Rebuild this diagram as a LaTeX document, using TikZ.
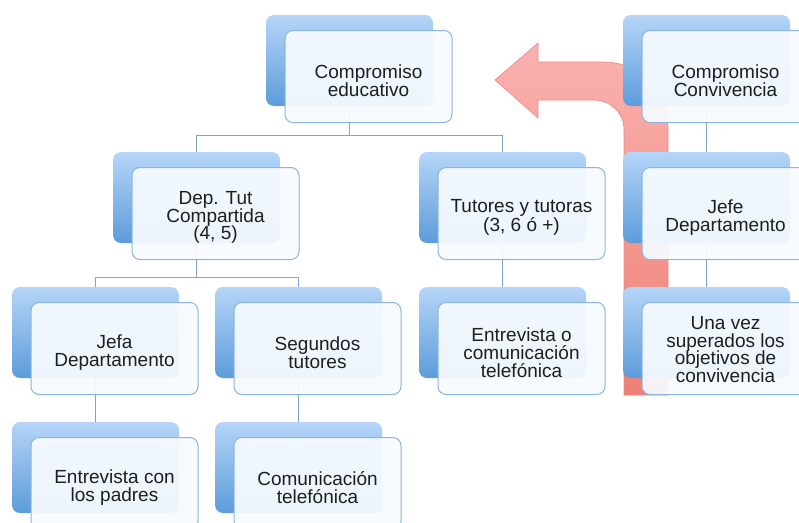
\documentclass[tikz,border=0pt]{standalone}
\usepackage{fontspec}
\setmainfont{Liberation Sans}

\definecolor{backtop}{RGB}{182,213,248}
\definecolor{backbot}{RGB}{92,156,218}
\definecolor{frontfill}{RGB}{246,250,254}
\definecolor{frontline}{RGB}{140,180,222}
\definecolor{linkcol}{RGB}{128,164,204}
\definecolor{arrowtop}{RGB}{250,178,175}
\definecolor{arrowbot}{RGB}{238,128,118}
\definecolor{arrowline}{RGB}{232,138,132}
\definecolor{textcol}{RGB}{30,30,30}

\begin{document}
\begin{tikzpicture}[x=1pt,y=1pt,
    backbox/.style={rounded corners=8pt,minimum width=167pt,minimum height=91pt,inner sep=0pt,
      top color=backtop,bottom color=backbot},
    boxbase/.style={rounded corners=8pt,minimum width=167pt,minimum height=92pt,inner sep=0pt,
      draw=frontline,line width=1pt,fill=frontfill,fill opacity=0.94},
    boxtext/.style={align=center,text=textcol,text opacity=1,fill opacity=1,draw=none,fill=none,
      yshift=-4pt,inner sep=0pt,font=\fontsize{19}{17.8}\selectfont},
    frontbox/.style={boxbase,label={[boxtext]center:#1}},
    link/.style={draw=linkcol,line width=1pt}]
    \useasboundingbox (0,0) rectangle (799,-522);
    \clip (0,0) rectangle (799,-522);
%
    % curved arrow behind the boxes
    \draw[arrowline,line width=0.6pt,top color=arrowtop,bottom color=arrowbot]
      (668,-395) -- (668,-128) .. controls (668,-90) and (640,-62) .. (603,-62)
      -- (538,-62) -- (538,-43) -- (495,-80) -- (538,-118) -- (538,-100)
      -- (593,-100) .. controls (610,-100) and (624,-112) .. (624,-130)
      -- (624,-395) -- cycle;
%
    \node[backbox] (eduB)  at (349.5,-60.5)  {};
    \node[backbox] (depB)  at (196.5,-197.5) {};
    \node[backbox] (tutB)  at (502.5,-197.5) {};
    \node[backbox] (convB) at (706.5,-60.5)  {};
    \node[backbox] (jefeB) at (706.5,-197.5) {};
    \node[backbox] (jefaB) at (95.5,-332.5)  {};
    \node[backbox] (segB)  at (298.5,-332.5) {};
    \node[backbox] (entB)  at (502.5,-332.5) {};
    \node[backbox] (unaB)  at (706.5,-332.5) {};
    \node[backbox] (padB)  at (95.5,-467.5)  {};
    \node[backbox] (telB)  at (298.5,-467.5) {};
%
    \draw[link] (eduB.south) -- ++(0,-29) -| (depB.north);
    \draw[link] (eduB.south) -- ++(0,-29) -| (tutB.north);
    \draw[link] (depB.south) -- ++(0,-34) -| (jefaB.north);
    \draw[link] (depB.south) -- ++(0,-34) -| (segB.north);
    \draw[link] (tutB.south) -- (entB.north);
    \draw[link] (convB.south) -- (jefeB.north);
    \draw[link] (jefeB.south) -- (unaB.north);
    \draw[link] (jefaB.south) -- (padB.north);
    \draw[link] (segB.south) -- (telB.north);
%
    \node[frontbox={Compromiso\\educativo}]          (edu)  at ([shift={(19,-16)}]eduB.center)  {};
    \node[frontbox={Dep. Tut\\Compartida\\(4, 5)}]   (dep)  at ([shift={(19,-16)}]depB.center)  {};
    \node[frontbox={Tutores y tutoras\\(3, 6 ó +)}]  (tut)  at ([shift={(19,-16)}]tutB.center)  {};
    \node[frontbox={Compromiso\\Convivencia}]        (conv) at ([shift={(19,-16)}]convB.center) {};
    \node[frontbox={Jefe\\Departamento}]             (jefe) at ([shift={(19,-16)}]jefeB.center) {};
    \node[frontbox={Jefa\\Departamento}]             (jefa) at ([shift={(19,-16)}]jefaB.center) {};
    \node[frontbox={Segundos\\tutores}]              (seg)  at ([shift={(19,-16)}]segB.center)  {};
    \node[frontbox={Entrevista o\\comunicación\\telefónica}] (ent) at ([shift={(19,-16)}]entB.center) {};
    \node[boxbase,label={[boxtext,yshift=3pt]center:Una vez\\superados los\\objetivos de\\convivencia}]
      (una) at ([shift={(19,-16)}]unaB.center) {};
    \node[frontbox={Entrevista con\\los padres}]     (pad)  at ([shift={(19,-16)}]padB.center)  {};
    \node[frontbox={Comunicación\\telefónica}]       (tel)  at ([shift={(19,-16)}]telB.center)  {};
  \end{tikzpicture}
\end{document}
